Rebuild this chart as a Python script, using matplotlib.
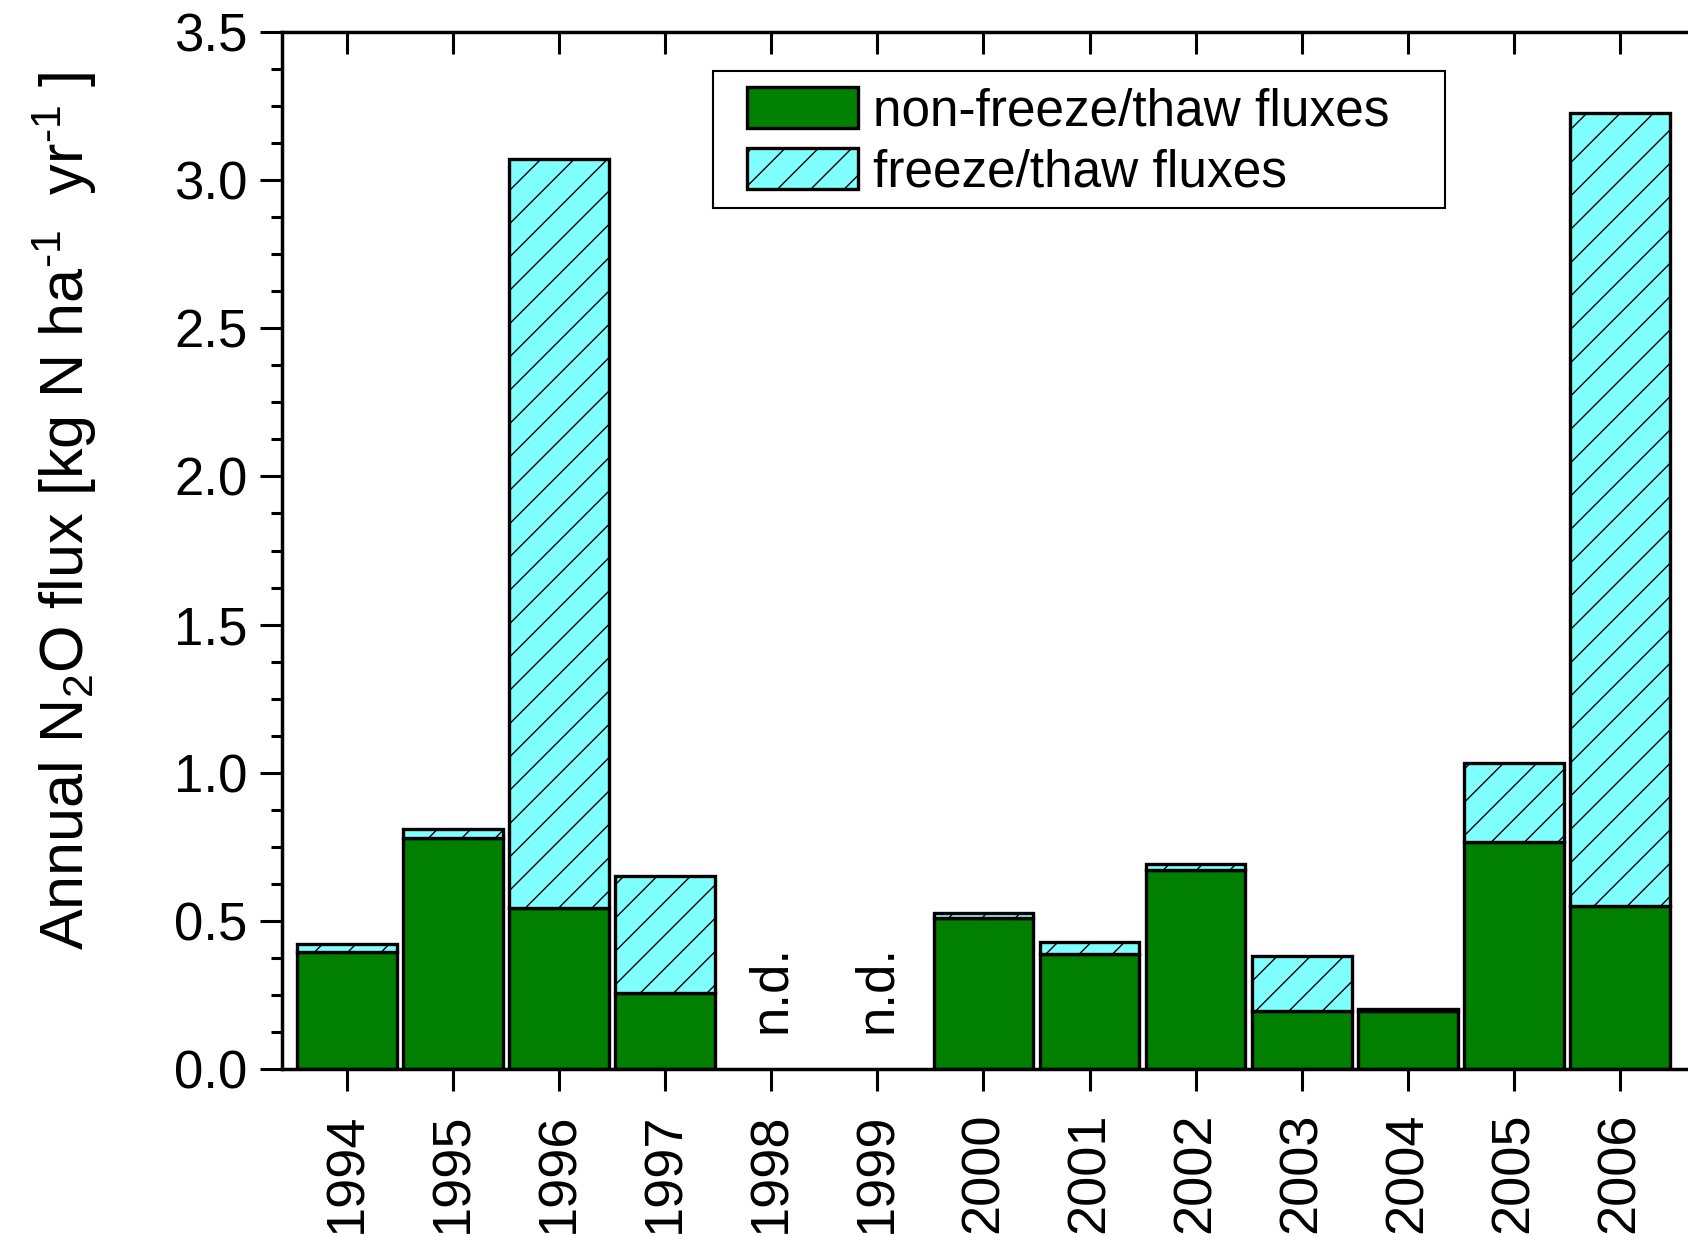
# stacked annual N2O flux bars: non-freeze/thaw + freeze/thaw contribution
import numpy as np
import matplotlib
matplotlib.use("Agg")
import matplotlib.pyplot as plt
from matplotlib.patches import Rectangle

plt.rcParams['font.family'] = ['Liberation Sans', 'DejaVu Sans']
plt.rcParams['mathtext.fontset'] = 'custom'
plt.rcParams['mathtext.rm'] = 'Liberation Sans'
plt.rcParams['mathtext.it'] = 'Liberation Sans:italic'
plt.rcParams['mathtext.bf'] = 'Liberation Sans:bold'
plt.rcParams['hatch.linewidth'] = 1.0

years = ['1994', '1995', '1996', '1997', '1998', '1999', '2000',
         '2001', '2002', '2003', '2004', '2005', '2006']
# None = no data (n.d.)
non_ft = [0.396, 0.778, 0.543, 0.255, None, None, 0.510,
          0.389, 0.672, 0.196, 0.195, 0.767, 0.551]
ft = [0.025, 0.033, 2.528, 0.397, None, None, 0.016,
      0.040, 0.020, 0.186, 0.006, 0.265, 2.675]
nd_label_y = 0.27

GREEN = '#007f00'
CYAN = '#80ffff'

fig = plt.figure(figsize=(16.88, 12.36), dpi=100)
ax = fig.add_axes([282 / 1688, 1 - 1069 / 1236, 1410 / 1688, 1037 / 1236])

x = np.arange(len(years))
have = [i for i in x if non_ft[i] is not None]
nd = [i for i in x if non_ft[i] is None]

base = [non_ft[i] for i in have]
top = [ft[i] for i in have]

ax.bar(have, base, width=0.94, color=GREEN, edgecolor='black',
       linewidth=2.4, label='non-freeze/thaw fluxes', zorder=2)
ax.bar(have, top, bottom=base, width=0.94, color=CYAN, edgecolor='black',
       linewidth=2.4, hatch='/', label='freeze/thaw fluxes', zorder=2)

for i in nd:
    ax.text(i, nd_label_y, 'n.d.', rotation=90, ha='center', va='center',
            fontsize=38)

ax.set_xlim(-0.613, 12.68)
ax.set_ylim(0, 3.5)
ax.set_xticks(x)
ax.set_xticklabels(years, rotation=90, fontsize=39)
ax.set_yticks(np.arange(0, 3.51, 0.5))
ax.set_yticklabels([f'{v:.1f}' for v in np.arange(0, 3.51, 0.5)], fontsize=38)
ax.set_yticks(np.arange(0, 3.51, 0.125), minor=True)

for s in ax.spines.values():
    s.set_linewidth(2.5)

ax.tick_params(axis='x', which='major', direction='out', length=16, width=2.2,
               pad=15, top=True)
ax.tick_params(axis='y', which='major', direction='out', length=16, width=2.2,
               pad=9)
ax.tick_params(axis='y', which='minor', direction='out', length=8, width=2.2)
ax.tick_params(axis='y', which='both', right=True)
# top and right ticks point inward
for t in ax.xaxis.get_major_ticks():
    t.tick2line.set_marker(3)
for t in ax.yaxis.get_major_ticks() + ax.yaxis.get_minor_ticks():
    t.tick2line.set_marker(1)

fig.text(0.038, 1 - 511 / 1236,
         r'Annual N$_2$O flux [kg N ha$^{\text{-1}}$  yr$^{\text{-1}}$ ]',
         rotation=90, ha='center', va='center', fontsize=44)

# legend frame drawn by hand so the padding matches
ax.add_patch(Rectangle((713 / 1688, 1 - 208 / 1236), 732 / 1688, 137 / 1236,
                       transform=fig.transFigure, facecolor='white',
                       edgecolor='black', linewidth=1.5, zorder=5,
                       clip_on=False))
leg = ax.legend(loc='upper left', bbox_to_anchor=(747 / 1688, 1 - 87 / 1236),
                bbox_transform=fig.transFigure, borderaxespad=0, borderpad=0,
                fontsize=37, handlelength=2.16, handleheight=0.84,
                handletextpad=0.3, labelspacing=0.24, frameon=False)
leg.set_zorder(6)

fig.savefig('out.png', dpi=100)
